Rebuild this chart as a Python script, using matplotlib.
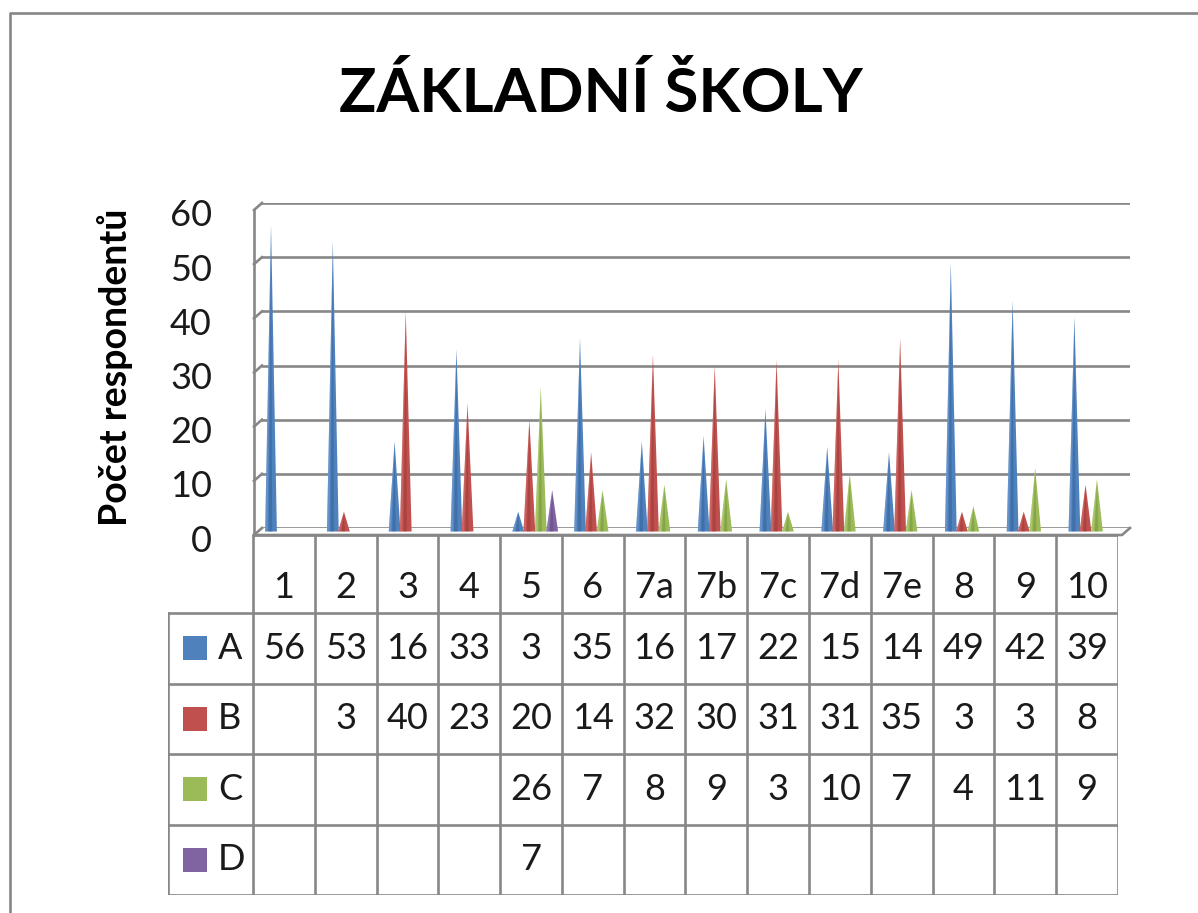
import numpy as np
import matplotlib.pyplot as plt
import matplotlib.transforms as mtrans

W, H = 1198, 913

def fx(px):
    return px / W

def fy(py):
    return 1 - py / H

plt.rcParams['font.family'] = ['Lato', 'DejaVu Sans']

kategorie = ['1', '2', '3', '4', '5', '6', '7a', '7b', '7c', '7d', '7e', '8', '9', '10']
serie = ['A', 'B', 'C', 'D']
hodnoty_a = [56, 53, 16, 33, 3, 35, 16, 17, 22, 15, 14, 49, 42, 39]
hodnoty_b = [None, 3, 40, 23, 20, 14, 32, 30, 31, 31, 35, 3, 3, 8]
hodnoty_c = [None, None, None, None, 26, 7, 8, 9, 3, 10, 7, 4, 11, 9]
hodnoty_d = [None, None, None, None, 7, None, None, None, None, None, None, None, None, None]
hodnoty = [hodnoty_a, hodnoty_b, hodnoty_c, hodnoty_d]

barvy = ['#4F81BD', '#C0504D', '#9BBB59', '#8064A2']
tmave = ['#2E5C94', '#923532', '#6E8C36', '#5B437E']
svetle = ['#8FB2DE', '#E08A87', '#C3DB8F', '#AE98CB']
seda = '#878787'
lw = 1.9

fig = plt.figure(figsize=(W / 100, H / 100), dpi=100)

# outer frame (only left and top are visible in the picture)
fig.add_artist(plt.Line2D([fx(10), fx(10), fx(1198)], [fy(913), fy(13), fy(13)],
                          color=seda, lw=lw, transform=fig.transFigure))

fig.text(fx(601), fy(94), 'ZÁKLADNÍ ŠKOLY', fontsize=44.5, fontweight='bold',
         ha='center', va='center')
fig.text(fx(115), fy(367), 'Počet respondentů', fontsize=27, fontweight='bold',
         rotation=90, ha='center', va='center')

# --- plot area with the cones ---
unit = 61.8
ax = fig.add_axes([fx(262), fy(528), fx(1130) - fx(262), fy(203) - fy(528)])
x0 = -(284 - 262) / unit
x1 = x0 + (1130 - 262) / unit
ax.set_xlim(x0, x1)
ax.set_ylim(0, 60)
ax.set_yticks(range(0, 61, 10))
ax.set_xticks([])
for s in ax.spines.values():
    s.set_visible(False)
ax.yaxis.grid(True, color=seda, lw=lw)
ax.set_axisbelow(True)
ax.tick_params(axis='y', length=0, pad=36, labelsize=26, labelcolor='#1a1a1a')
posun = mtrans.ScaledTranslation(0, -10 / 100, fig.dpi_scale_trans)
for lab in ax.get_yticklabels():
    lab.set_transform(lab.get_transform() + posun)

# 3D depth: front axis and floor
dx = 8 / unit
dy = 7 * 60 / 325
ax.plot([x0 - dx, x0 - dx], [-dy, 60 - dy], color=seda, lw=lw, clip_on=False)
for v in ax.get_yticks():
    ax.plot([x0 - dx, x0], [v - dy, v], color=seda, lw=lw, clip_on=False)
ax.plot([x0 - dx, x1 - dx, x1], [-dy, -dy, 0], color=seda, lw=lw, clip_on=False)

posuny = [-0.21, -0.03, 0.155, 0.34]
w = 0.095
b = -dy * 0.5
for s, rada in enumerate(hodnoty):
    for i, v in enumerate(rada):
        if v is None:
            continue
        p = i + posuny[s]
        ax.fill([p - w, p, p + w], [b, v, b], color=barvy[s], lw=0, zorder=3, clip_on=False)
        ax.fill([p - w * 0.4, p, p + w * 0.2], [b, v * 0.9, b], color=tmave[s], lw=0,
                zorder=4, alpha=0.45, clip_on=False)
        ax.fill([p - w, p, p - w * 0.6], [b, v, b], color=svetle[s], lw=0, zorder=4,
                alpha=0.35, clip_on=False)

# --- data table ---
tab = fig.add_axes([fx(168), fy(895), fx(1118) - fx(168), fy(535) - fy(895)])
lx = -(253 - 168) / unit
hh = 78 / 70.5
n = len(kategorie)
tab.set_xlim(lx, n)
tab.set_ylim(hh + len(serie), 0)
tab.axis('off')
for j in range(n + 1):
    tab.plot([j, j], [0, hh + len(serie)], color=seda, lw=lw)
tab.plot([lx, lx], [hh, hh + len(serie)], color=seda, lw=lw)
tab.plot([0, n], [0, 0], color=seda, lw=lw)
for r in range(len(serie) + 1):
    tab.plot([lx, n], [hh + r, hh + r], color=seda, lw=lw)

for j, k in enumerate(kategorie):
    tab.text(j + 0.5, 0.75, k, fontsize=26, ha='center', va='center', color='#1a1a1a')

for r, (nazev, rada) in enumerate(zip(serie, hodnoty)):
    yc = hh + r + 0.5
    tab.add_patch(plt.Rectangle((lx + 15 / unit, yc - 0.17), 24 / unit, 0.34,
                                color=barvy[r], lw=0))
    tab.text(lx + 50 / unit, yc, nazev, fontsize=26, ha='left', va='center', color='#1a1a1a')
    for j, v in enumerate(rada):
        if v is not None:
            tab.text(j + 0.5, yc, str(v), fontsize=26, ha='center', va='center', color='#1a1a1a')

fig.savefig('out.png', dpi=100)
